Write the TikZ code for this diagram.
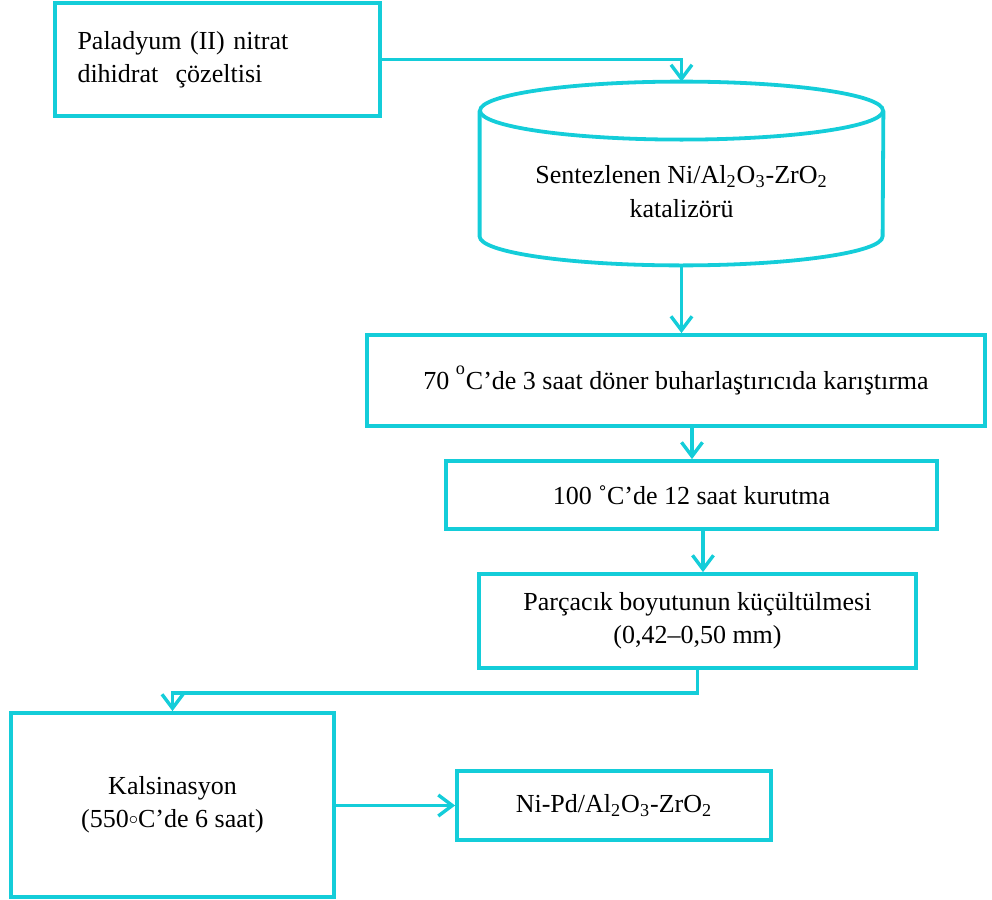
\documentclass[tikz,border=0pt]{standalone}
\usepackage{fontspec}
\setmainfont{Liberation Serif}
\usetikzlibrary{arrows.meta,calc}
\definecolor{turq}{HTML}{14CDD9}
\begin{document}
\begin{tikzpicture}[x=0.5pt, y=-0.5pt,
  box/.style={draw=turq, line width=1.9pt, align=center, inner sep=0pt,
    font=\fontsize{13}{16.5}\selectfont},
  flow/.style={draw=turq, line width=1.7pt, -{Straight Barb[length=7pt, width=10.5pt]}}]
\useasboundingbox (0,0) rectangle (992,900);
\node[box, minimum width=162.5pt, minimum height=56.5pt, text width=140pt, align=left] (pal) at (217.5,59.5) {Paladyum (II) nitrat\\dihidrat\ \ çözeltisi};
\node[inner sep=0pt, minimum width=201.5pt, minimum height=91.5pt] (cat) at (681.5,173.5) {};
\draw[turq, line width=1.9pt] ([yshift=-14.5pt]cat.north) ellipse [x radius=100.75pt, y radius=14.5pt];
\draw[turq, line width=1.9pt] ([yshift=-14.5pt]cat.north west) -- ([yshift=14.5pt]cat.south west)
  arc [start angle=180, end angle=360, x radius=100.75pt, y radius=14.5pt] -- ([yshift=-14.5pt]cat.north east);
\node[font=\fontsize{13}{17}\selectfont, align=center] (catlabel) at (681.5,192) {Sentezlenen Ni/Al\textsubscript{2}O\textsubscript{3}-ZrO\textsubscript{2}\\katalizörü};
\node[box, minimum width=309pt, minimum height=45.5pt] (mix) at (676,380.5) {\raisebox{-3pt}{70 \raisebox{3pt}{\textsuperscript{o}}C’de 3 saat döner buharlaştırıcıda karıştırma}};
\node[box, minimum width=245.5pt, minimum height=34pt] (dry) at (691.5,495) {100 ˚C’de 12 saat kurutma};
\node[box, minimum width=218.5pt, minimum height=47pt] (size) at (697.5,621) {Parçacık boyutunun küçültülmesi\\(0,42–0,50 mm)};
\node[box, minimum width=161.5pt, minimum height=92pt] (kal) at (172.5,805) {Kalsinasyon\\(550\raisebox{1.5pt}{$\scriptstyle\circ$}C’de 6 saat)};
\node[box, minimum width=157pt, minimum height=34.5pt] (prod) at (614,805.5) {Ni-Pd/Al\textsubscript{2}O\textsubscript{3}-ZrO\textsubscript{2}};
% connectors
\draw[flow] (pal.east) -| (cat.north);
\draw[flow] (cat.south) -- (cat.south |- mix.north);
\draw[flow] ([xshift=8pt]mix.south) -- ([xshift=8pt]mix.south |- dry.north);
\draw[flow] ([xshift=5.75pt]dry.south) -- ([xshift=5.75pt]dry.south |- size.north);
\draw[flow] (size.south) -- ++(0,23) -| (kal.north);
\draw[flow] (kal.east |- prod.west) -- (prod.west);
\end{tikzpicture}
\end{document}
